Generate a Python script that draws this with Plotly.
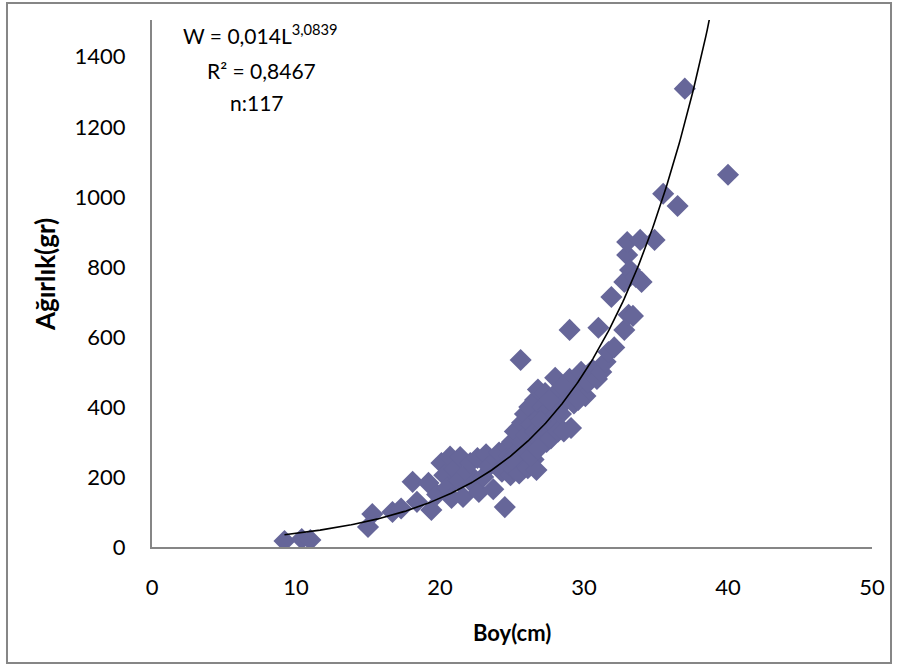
import numpy as np
import plotly.graph_objects as go

# Length (cm) and weight (g)
boy = [
    9.2, 10.4, 11.0, 15.0, 15.3, 16.7, 17.3, 18.1, 18.4, 19.2, 19.4,
    19.8, 20.1, 20.3, 20.5, 20.7, 20.8, 21.0, 21.3, 21.4, 21.6, 21.9,
    22.1, 22.3, 22.6, 22.7, 23.0, 23.2, 23.4, 23.7, 23.9, 24.1, 24.3,
    24.5, 24.5, 24.7, 24.8, 24.9, 25.0, 25.1, 25.2, 25.3, 25.4, 25.5,
    25.6, 25.7, 25.7, 25.8, 25.9, 26.0, 26.0, 26.1, 26.2, 26.3, 26.4,
    26.5, 26.6, 26.6, 26.7, 26.8, 26.9, 27.0, 27.1, 27.2, 27.3, 27.4,
    27.5, 27.6, 27.7, 27.8, 27.9, 28.0, 28.1, 28.2, 28.3, 28.4, 28.6,
    28.8, 28.9, 29.0, 29.0, 29.1, 29.3, 29.5, 29.8, 30.1, 30.3, 30.6,
    30.9, 31.0, 31.2, 25.0, 26.3, 27.0, 27.6, 28.5, 26.8, 29.6,
    31.5, 31.7, 31.9, 32.1, 32.8, 33.0, 33.1, 33.0, 32.8, 33.2, 33.4,
    33.6, 33.9, 34.0, 34.9, 35.5, 36.5, 37.0, 40.0,
]
agirlik = [
    17, 23, 20, 57, 94, 100, 110, 186, 129, 183, 106,
    150, 240, 205, 169, 258, 140, 222, 190, 257, 143, 214,
    240, 180, 254, 157, 200, 265, 230, 165, 250, 270, 215,
    114, 232, 285, 260, 205, 300, 222, 330, 270, 245, 210,
    534, 355, 300, 240, 380, 320, 270, 225, 400, 350, 290,
    250, 420, 330, 220, 450, 370, 300, 400, 340, 440, 300,
    390, 360, 310, 420, 350, 483, 400, 330, 450, 380, 330,
    420, 470, 620, 480, 340, 410, 450, 500, 431, 470, 506,
    480, 626, 500, 250, 260, 360, 420, 460, 280, 420,
    529, 557, 714, 570, 620, 834, 663, 871, 757, 791, 660,
    771, 877, 757, 877, 1009, 974, 1309, 1063,
]

x_ticks = [0, 10, 20, 30, 40, 50]
y_ticks = [0, 200, 400, 600, 800, 1000, 1200, 1400]

x_title = "Boy(cm)"
y_title = "Ağırlık(gr)"
eq_lines = ["W = 0,014L<sup>3,0839</sup>", "R² = 0,8467", "n:117"]

# Trend line: least-squares fit (exponential form) computed from the data
bx = np.array(boy, dtype=float)
by = np.array(agirlik, dtype=float)
b, ln_a = np.polyfit(bx, np.log(by), 1)
tx = np.linspace(bx.min(), bx.max(), 300)
ty = np.exp(ln_a) * np.exp(b * tx)

FONT = "Lato"
AXIS_COL = "#868686"

fig = go.Figure()
fig.add_trace(go.Scatter(
    x=boy, y=agirlik, mode="markers",
    marker=dict(symbol="diamond", size=17, color="#666699", line=dict(width=0)),
    showlegend=False, hoverinfo="skip",
))
fig.add_trace(go.Scatter(
    x=tx, y=ty, mode="lines", line=dict(color="black", width=1.6),
    showlegend=False, hoverinfo="skip",
))

fig.update_layout(
    width=899, height=668, autosize=False,
    margin=dict(l=152, r=27, t=20, b=121, pad=0),
    paper_bgcolor="white", plot_bgcolor="white",
    font=dict(family=FONT, size=22, color="black"),
    xaxis=dict(range=[0, 50], tickvals=x_ticks, showgrid=False, zeroline=False,
               showline=True, linecolor=AXIS_COL, linewidth=2, ticks="",
               ticklabelstandoff=20, tickfont=dict(size=22)),
    yaxis=dict(range=[0, 1505], tickvals=y_ticks, showgrid=False, zeroline=False,
               showline=True, linecolor=AXIS_COL, linewidth=2, ticks="",
               ticklabelstandoff=20, tickfont=dict(size=22)),
    shapes=[dict(type="rect", xref="paper", yref="paper",
                 x0=-0.2014, x1=1.0264, y0=-0.2201, y1=1.0323,
                 line=dict(color=AXIS_COL, width=2), layer="below")],
)

# axis titles
fig.add_annotation(text="<b>%s</b>" % x_title, xref="paper", yref="paper",
                   x=0.5, y=-0.163, showarrow=False, font=dict(size=22),
                   xanchor="center", yanchor="middle")
fig.add_annotation(text="<b>%s</b>" % y_title, xref="paper", yref="paper",
                   x=-0.1486, y=0.516, showarrow=False, font=dict(size=26),
                   textangle=-90, xanchor="center", yanchor="middle")

# equation text
eq_y = [1465, 1360, 1268]
eq_x = [7.55, 7.6, 7.3]
for t, xx, yy in zip(eq_lines, eq_x, eq_y):
    fig.add_annotation(text=t, x=xx, y=yy, xref="x", yref="y", showarrow=False,
                       font=dict(size=21), xanchor="center", yanchor="middle")

fig.write_html("out.html")
